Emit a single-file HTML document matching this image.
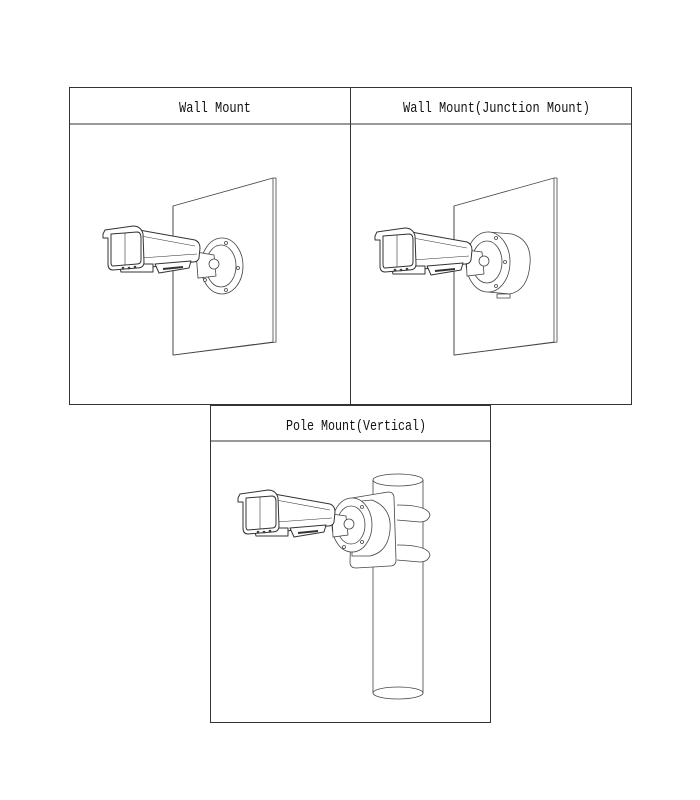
<!DOCTYPE html>
<html><head><meta charset="utf-8"><style>
html,body{margin:0;padding:0;background:#fff;}
svg{display:block;}
text{font-family:"Liberation Mono","DejaVu Sans Mono",monospace;font-size:15px;fill:#111;}
</style></head><body>
<svg width="700" height="800" viewBox="0 0 700 800" xmlns="http://www.w3.org/2000/svg">
<defs>
<g id="cam" fill="#fff" stroke="#333" stroke-width="1" stroke-linejoin="round">
  <path d="M36,2 L92,12 Q97,14 97,20 L96,30 Q95,34 90,34 L40,40 Z"/>
  <path d="M38,8 L92,18" fill="none" stroke-width="0.6"/>
  <path d="M38,30 L94,26" fill="none" stroke-width="0.6"/>
  <path d="M16,36 L50,36 L50,44 L18,44 Z"/>
  <path d="M52,36 L88,33 L86,40 L56,45 Z"/>
  <path d="M60,41 L80,39" stroke-width="2"/>
  <path d="M0,6 L2,2 L30,-2 Q38,-2 40,6 L41,34 Q41,40 34,40 L10,42 Q5,42 5,36 L5,10 L0,10 Z"/>
  <path d="M8,6 L34,4 Q38,4 38,10 L38,32 Q38,36 34,36 L10,38 Q8,38 8,34 Z"/>
  <path d="M22,5 L22,37" fill="none" stroke-width="0.6"/>
  <circle cx="20" cy="40" r="0.8"/><circle cx="26" cy="40" r="0.8"/><circle cx="32" cy="39" r="0.8"/>
</g>
</defs>
<g fill="none" stroke="#333" stroke-width="1">
  <rect x="69.5" y="87.5" width="281" height="317"/>
  <line x1="69.5" y1="124" x2="350.5" y2="124"/>
  <rect x="350.5" y="87.5" width="281" height="317"/>
  <line x1="350.5" y1="124" x2="631.5" y2="124"/>
  <rect x="210.5" y="405.5" width="280" height="317"/>
  <line x1="210.5" y1="441" x2="490.5" y2="441"/>
</g>
<text x="179" y="112" textLength="72" lengthAdjust="spacingAndGlyphs">Wall Mount</text>
<text x="403" y="112" textLength="187" lengthAdjust="spacingAndGlyphs">Wall Mount(Junction Mount)</text>
<text x="286" y="430" textLength="140" lengthAdjust="spacingAndGlyphs">Pole Mount(Vertical)</text>

<g fill="#fff" stroke="#444" stroke-width="0.8">
  <path d="M173,206 L273,178 L276,178 L276,342 L174,355 L173,355 Z"/>
  <path d="M173,206 L173,355 M273,178 L273,342 L173,355"/>
  <ellipse cx="222" cy="266" rx="21" ry="28"/>
  <ellipse cx="221" cy="266" rx="15" ry="21"/>
  <path d="M196,252 L214,255 L216,276 L198,278 Z"/>
  <circle cx="214" cy="264" r="5"/>
  <circle cx="226" cy="243" r="1.5"/><circle cx="226" cy="290" r="1.5"/><circle cx="205" cy="280" r="1.5"/><circle cx="238" cy="268" r="1.5"/>
</g>
<use href="#cam" x="103" y="228"/>

<g fill="#fff" stroke="#444" stroke-width="0.8">
  <path d="M454,206 L554,178 L557,178 L557,342 L455,355 L454,355 Z"/>
  <path d="M454,206 L454,355 M554,178 L554,342 L454,355"/>
  <path d="M488,232 L512,234 Q532,240 530,264 Q528,290 510,294 L488,292 Z"/>
  <ellipse cx="488" cy="262" rx="22" ry="30"/>
  <ellipse cx="487" cy="262" rx="15" ry="21"/>
  <path d="M466,250 L482,252 L484,274 L467,276 Z"/>
  <circle cx="484" cy="261" r="5"/>
  <circle cx="496" cy="238" r="1.5"/><circle cx="496" cy="286" r="1.5"/><circle cx="505" cy="262" r="1.5"/>
  <path d="M497,294 L510,294 L510,298 L497,298 Z"/>
</g>
<use href="#cam" x="375" y="230"/>

<g fill="#fff" stroke="#444" stroke-width="0.8">
  <rect x="373" y="480" width="50" height="213" stroke="none"/>
  <path d="M373,480 L373,693 M423,480 L423,693" fill="none"/>
  <ellipse cx="398" cy="480" rx="25" ry="6"/>
  <ellipse cx="398" cy="693" rx="25" ry="6" fill="none"/>
  <path d="M397,505 Q428,505 430,515 Q428,522 420,522 L397,520" />
  <path d="M397,545 Q428,545 430,555 Q428,562 420,562 L397,560" />
  <path d="M352,498 L388,492 Q394,492 394,498 L396,560 Q396,566 390,566 L356,568 Q350,568 350,562 Z"/>
  <path d="M352,502 L372,500 Q392,508 390,530 Q388,552 370,556 L352,556 Z"/>
  <ellipse cx="352" cy="525" rx="20" ry="27"/>
  <ellipse cx="351" cy="525" rx="14" ry="19"/>
  <path d="M332,514 L346,516 L348,535 L333,537 Z"/>
  <circle cx="349" cy="524" r="5"/>
  <circle cx="362" cy="507" r="1.5"/><circle cx="362" cy="542" r="1.5"/><circle cx="344" cy="547" r="1.5"/>
</g>
<use href="#cam" x="238" y="492"/>
</svg>
</body></html>
